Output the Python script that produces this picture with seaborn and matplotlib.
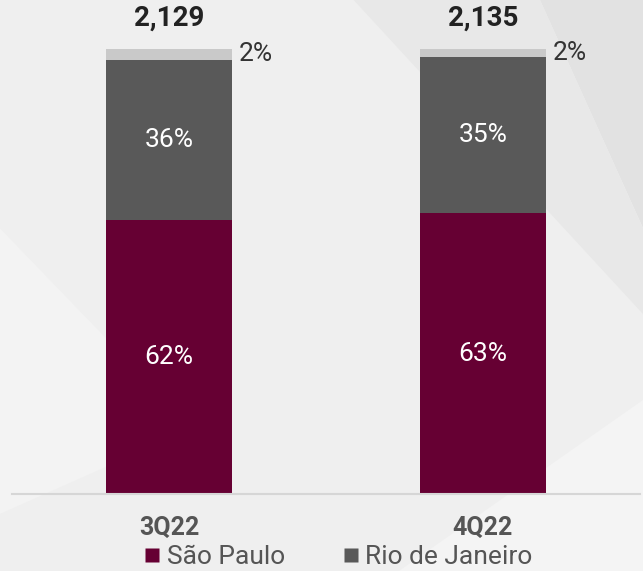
import matplotlib
matplotlib.use("Agg")
import matplotlib.pyplot as plt
from matplotlib.lines import Line2D
from matplotlib.patches import Polygon
import seaborn as sns
import pandas as pd

# ---- data ----
quarters = ["3Q22", "4Q22"]
totals = ["2,129", "2,135"]
sao_paulo = [61.4, 63.0]      # bar heights (%)
rio = [36.1, 35.0]
others = [2.5, 2.0]
sao_paulo_labels = ["62%", "63%"]
rio_labels = ["36%", "35%"]
others_labels = ["2%", "2%"]
series_names = ["São Paulo", "Rio de Janeiro"]

C_SP = "#660033"
C_RJ = "#595959"
C_OT = "#c9c9c9"
BG = "#efefef"

sns.set_theme(style="white")
plt.rcParams["font.family"] = ["Roboto", "DejaVu Sans"]

fig = plt.figure(figsize=(6.43, 5.71), dpi=100)
fig.patch.set_facecolor(BG)

# subtle background shapes
shapes = [
    ([(0.84, 1.0), (1.0, 1.0), (1.0, 0.6)], "#e2e2e2"),
    ([(0.55, 1.0), (0.84, 1.0), (1.0, 0.6), (1.0, 0.45)], "#e8e8e8"),
    ([(0.0, 0.6), (0.0, 0.1), (0.3, 0.25)], "#f3f3f3"),
    ([(0.62, 0.0), (1.0, 0.0), (1.0, 0.3)], "#f4f4f4"),
]
for pts, col in shapes:
    fig.patches.append(Polygon(pts, closed=True, transform=fig.transFigure,
                               facecolor=col, edgecolor="none", zorder=-10))

ax = fig.add_axes([12 / 643, 1 - 494 / 571, 628 / 643, 494 / 571])
ax.set_facecolor("none")

df = pd.DataFrame({
    "quarter": quarters,
    "sp": sao_paulo,
    "rj": rio,
    "ot": others,
})
df["cum_rj"] = df["sp"] + df["rj"]
df["cum_ot"] = df["cum_rj"] + df["ot"]

sns.barplot(data=df, x="quarter", y="cum_ot", color=C_OT, width=0.4,
            saturation=1, ax=ax, linewidth=0)
sns.barplot(data=df, x="quarter", y="cum_rj", color=C_RJ, width=0.4,
            saturation=1, ax=ax, linewidth=0)
sns.barplot(data=df, x="quarter", y="sp", color=C_SP, width=0.4,
            saturation=1, ax=ax, linewidth=0)

ax.set_xlim(-0.5, 1.5)
ax.set_ylim(0, 110.9)
ax.set_xlabel("")
ax.set_ylabel("")
ax.set_yticks([])
for s in ["top", "right", "left"]:
    ax.spines[s].set_visible(False)
ax.spines["bottom"].set_color("#d6d6d6")
ax.spines["bottom"].set_linewidth(1.5)
ax.tick_params(axis="x", length=0, pad=16)
ax.set_xticks(range(len(quarters)))
ax.set_xticklabels(quarters, fontsize=18, fontweight="bold", color="#555555")

for i in range(len(quarters)):
    sp, rj, ot = sao_paulo[i], rio[i], others[i]
    ax.text(i, sp / 2, sao_paulo_labels[i], ha="center", va="center",
            color="white", fontsize=19)
    ax.text(i, sp + rj / 2, rio_labels[i], ha="center", va="center",
            color="white", fontsize=19)
    ax.annotate(others_labels[i], xy=(i + 0.2, sp + rj + ot / 2),
                xytext=(5, 0), textcoords="offset points", ha="left",
                va="center", color="#333333", fontsize=19)
    ax.annotate(totals[i], xy=(i, sp + rj + ot), xytext=(0, 22),
                textcoords="offset points", ha="center", va="center",
                color="#222222", fontsize=20, fontweight="bold")

handles = [Line2D([0], [0], marker="s", linestyle="none", markersize=10,
                  markerfacecolor=c, markeredgecolor="none")
           for c in [C_SP, C_RJ]]
fig.legend(handles, series_names, loc="center",
           bbox_to_anchor=((147 + 530) / 2 / 643, 1 - 557 / 571),
           ncol=2, frameon=False, fontsize=19, labelcolor="#555555",
           handlelength=0.6, handletextpad=0.25, columnspacing=2.2,
           borderaxespad=0, borderpad=0)

fig.savefig("out.png", dpi=100, facecolor=BG)
